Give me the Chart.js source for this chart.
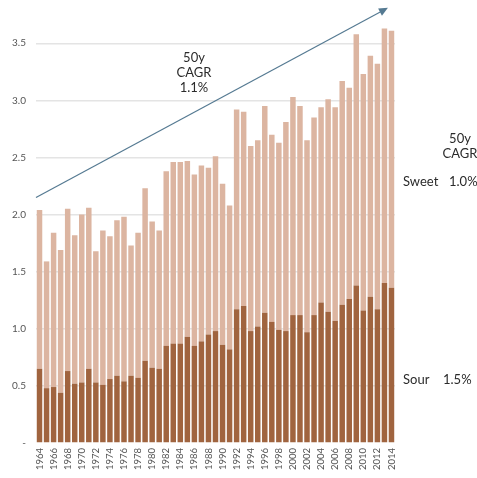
<!DOCTYPE html>
<html>
<head>
<meta charset="utf-8">
<script src="https://cdn.jsdelivr.net/npm/chart.js@4"></script>
<style>
  html, body { margin: 0; padding: 0; background: #ffffff; }
  #wrap { width: 477px; height: 478px; position: relative; }
</style>
</head>
<body>
<div id="wrap"><canvas id="chart" width="477" height="478"></canvas></div>
<script>
// Yearly categories, 1964 to 2014
const years = [];
for (let y = 1964; y <= 2014; y++) years.push(String(y));

// Sour component (bottom of each stack)
const sour = [
  0.65, 0.48, 0.49, 0.44, 0.63, 0.52, 0.53, 0.65, 0.53, 0.51,
  0.56, 0.59, 0.54, 0.59, 0.57, 0.72, 0.66, 0.65, 0.85, 0.87,
  0.87, 0.93, 0.85, 0.89, 0.95, 0.98, 0.86, 0.82, 1.17, 1.20,
  0.98, 1.02, 1.14, 1.06, 0.99, 0.98, 1.12, 1.12, 0.97, 1.12,
  1.23, 1.15, 1.07, 1.21, 1.26, 1.38, 1.16, 1.28, 1.17, 1.40,
  1.36
];

// Sweet component (stacked on top of sour)
const sweet = [
  1.39, 1.11, 1.35, 1.25, 1.42, 1.30, 1.47, 1.41, 1.15, 1.35,
  1.25, 1.36, 1.44, 1.14, 1.27, 1.51, 1.28, 1.21, 1.53, 1.59,
  1.59, 1.54, 1.50, 1.54, 1.46, 1.53, 1.41, 1.26, 1.75, 1.70,
  1.62, 1.63, 1.81, 1.64, 1.64, 1.83, 1.91, 1.83, 1.68, 1.73,
  1.71, 1.86, 1.87, 1.96, 1.85, 2.20, 2.07, 2.11, 2.15, 2.23,
  2.25
];

// Value axis ticks
const yTicks = [0, 0.5, 1.0, 1.5, 2.0, 2.5, 3.0, 3.5];

// Overall trend arrow: value at the start and at the end of the period
const trendValues = [2.15, 3.81];

// Growth-rate labels
const totalCagr = '1.1%';
const sweetCagr = '1.0%';
const sourCagr = '1.5%';

const FONT = 'Lato, "Open Sans", sans-serif';
const TEXT = '#2b2b2b';

const annotations = {
  id: 'annotations',
  afterDatasetsDraw(chart) {
    const { ctx, chartArea } = chart;
    const xs = chart.scales.x, ys = chart.scales.y;

    // trend arrow across the whole period
    const x0 = chartArea.left;
    const y0 = ys.getPixelForValue(trendValues[0]);
    const x1 = xs.getPixelForValue(years.length - 1.5);
    const y1 = ys.getPixelForValue(trendValues[1]);
    const ang = Math.atan2(y1 - y0, x1 - x0);
    const head = 9;
    ctx.save();
    ctx.strokeStyle = '#557a92';
    ctx.fillStyle = '#557a92';
    ctx.lineWidth = 1.2;
    ctx.beginPath();
    ctx.moveTo(x0, y0);
    ctx.lineTo(x1 - Math.cos(ang) * head * 0.8, y1 - Math.sin(ang) * head * 0.8);
    ctx.stroke();
    ctx.beginPath();
    ctx.moveTo(x1, y1);
    ctx.lineTo(x1 - head * Math.cos(ang) + 4 * Math.sin(ang), y1 - head * Math.sin(ang) - 4 * Math.cos(ang));
    ctx.lineTo(x1 - head * Math.cos(ang) - 4 * Math.sin(ang), y1 - head * Math.sin(ang) + 4 * Math.cos(ang));
    ctx.closePath();
    ctx.fill();

    // text labels
    ctx.fillStyle = TEXT;
    ctx.font = '13px ' + FONT;
    ctx.textBaseline = 'middle';
    ctx.textAlign = 'center';
    ctx.fillText('50y', 194, 58);
    ctx.fillText('CAGR', 194, 73);
    ctx.fillText(totalCagr, 194, 88);

    ctx.fillText('50y', 460, 139);
    ctx.fillText('CAGR', 460, 154);

    ctx.textAlign = 'left';
    ctx.fillText('Sweet', 403, 182);
    ctx.fillText(sweetCagr, 449, 182);
    ctx.fillText('Sour', 403, 380);
    ctx.fillText(sourCagr, 443, 380);
    ctx.restore();
  }
};

new Chart(document.getElementById('chart'), {
  type: 'bar',
  data: {
    labels: years,
    datasets: [
      {
        label: 'Sour',
        data: sour,
        backgroundColor: '#a0643f',
        categoryPercentage: 1.0,
        barPercentage: 0.78,
        stack: 'total'
      },
      {
        label: 'Sweet',
        data: sweet,
        backgroundColor: '#dcb5a1',
        categoryPercentage: 1.0,
        barPercentage: 0.78,
        stack: 'total'
      }
    ]
  },
  options: {
    responsive: false,
    animation: false,
    layout: { padding: { top: 9, right: 82, bottom: 0, left: 0 } },
    plugins: {
      legend: { display: false },
      tooltip: { enabled: false }
    },
    scales: {
      x: {
        stacked: true,
        grid: { display: false, drawTicks: false },
        border: { display: false },
        ticks: {
          autoSkip: false,
          maxRotation: 90,
          minRotation: 90,
          padding: 5,
          color: '#555555',
          font: { family: FONT, size: 9.5 },
          callback(value, index) { return index % 2 === 0 ? years[index] : ''; }
        },
        afterFit(scale) {
          scale.height = 35;
          scale.paddingLeft = 0;
          scale.paddingRight = 0;
        }
      },
      y: {
        stacked: true,
        min: 0,
        max: 3.8,
        afterBuildTicks(scale) {
          scale.ticks = yTicks.map(v => ({ value: v }));
        },
        grid: {
          drawTicks: false,
          color: (c) => c.tick && c.tick.value === 0 ? 'rgba(0,0,0,0)' : '#e4e4e4',
          lineWidth: 1.5
        },
        border: { display: false },
        ticks: {
          padding: 10,
          color: '#555555',
          font: { family: FONT, size: 10 },
          callback(value) { return value === 0 ? '-' : Number(value).toFixed(1); }
        },
        afterFit(scale) {
          scale.width = 36;
          scale.paddingTop = 0;
          scale.paddingBottom = 0;
        }
      }
    }
  },
  plugins: [annotations]
});
</script>
</body>
</html>
